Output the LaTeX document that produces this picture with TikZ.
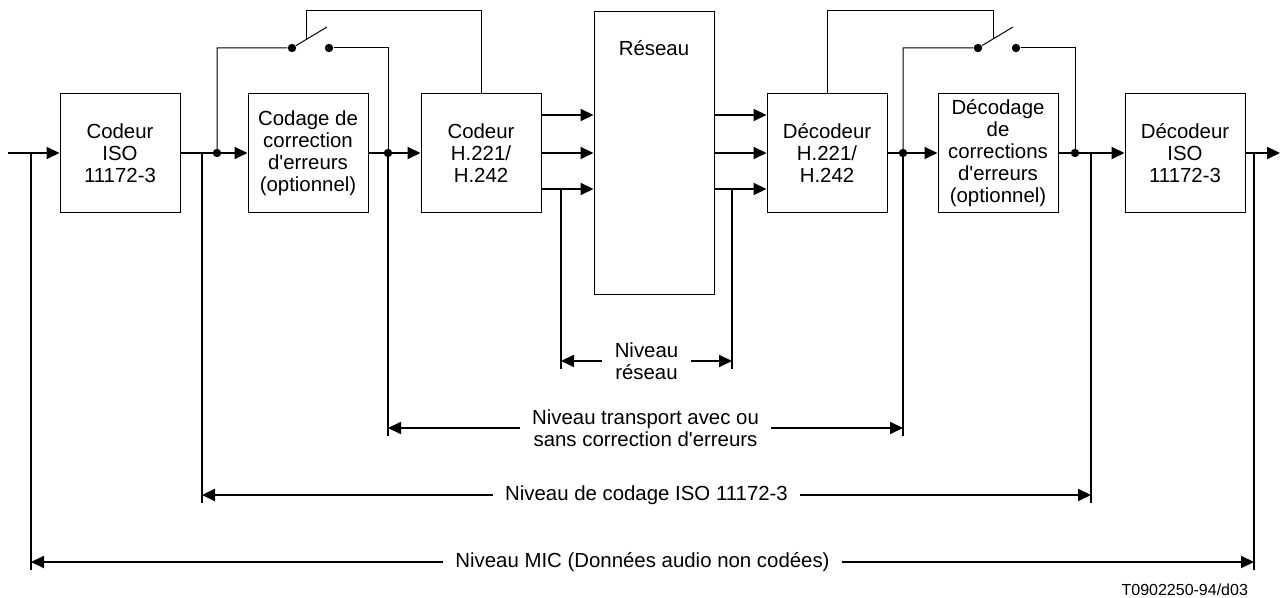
\documentclass[tikz,border=0pt]{standalone}
\usepackage{fontspec}
\setmainfont{Liberation Sans}
\usepackage{tikz}
\usetikzlibrary{arrows.meta,positioning,calc}

\begin{document}
\begin{tikzpicture}[
  x=0.5pt, y=-0.5pt,
  node distance=26pt,
  font=\fontsize{10.2}{11}\selectfont,
  box/.style={draw, line width=0.5pt, minimum width=60pt, minimum height=59.5pt, inner sep=1pt, align=center},
  sig/.style={line width=1pt},
  arrow/.style={sig, -{Triangle[length=6.5pt,width=6pt]}},
  wire/.style={line width=0.5pt},
  dot/.style={circle, fill, inner sep=0pt, minimum size=4.2pt},
  level/.style={align=center, inner xsep=6pt, inner ysep=0pt}
]
  \useasboundingbox (0,0) rectangle (1282,598);

  \node[box] (isoenc) at (120,153) {Codeur\\ISO\\11172-3};
  \node[box, right=33.5pt of isoenc] (fecenc) {Codage de\\correction\\d\textquotesingle erreurs\\(optionnel)};
  \node[box, right=of fecenc] (muxenc) {Codeur\\H.221/\\H.242};
  \node[box, right=of muxenc, minimum height=141.5pt] (net) {};
  \node (nettxt) at ($(net.north)+(0,37)$) {Réseau};
  \node[box, right=of net] (demux) {Décodeur\\H.221/\\H.242};
  \node[box, right=25pt of demux] (fecdec) {Décodage\\de\\corrections\\d\textquotesingle erreurs\\(optionnel)};
  \node[box, right=33pt of fecdec] (isodec) {Décodeur\\ISO\\11172-3};

  \coordinate (in) at (8,153);
  \coordinate (out) at (1280,153);
  \coordinate (pcmL) at (31,153);
  \coordinate (pcmR) at (1254,153);
  \coordinate (isoL) at (202,153);
  \coordinate (isoR) at (1091,153);
  \coordinate (byL) at (217,153);
  \coordinate (trL) at (388,153);
  \coordinate (trR) at (903,153);
  \coordinate (byR) at (1075,153);
  \coordinate (netL) at (561,189);
  \coordinate (netR) at (732,189);

  \node[dot] (swLa) at (292,48) {};
  \node[dot] (swLb) at (329,48) {};
  \coordinate (bladeL) at (327,27);
  \coordinate (actL) at (306,40);
  \coordinate (topL) at (306,11);
  \node[dot] (swRa) at (978,48) {};
  \node[dot] (swRb) at (1016,48) {};
  \coordinate (bladeR) at (1013,27);
  \coordinate (actR) at (993,39);
  \coordinate (topR) at (993,11);
  \foreach \p in {byL,trL,trR,byR}
    \node[dot] (\p dot) at (\p) {};

  \node[level] (lvnet) at (646.5,361) {Niveau\\réseau};
  \node[level] (lvtr) at (645.5,428) {Niveau transport avec ou\\sans correction d\textquotesingle erreurs};
  \node[level] (lviso) at (646.5,495) {Niveau de codage ISO 11172-3};
  \node[level] (lvpcm) at (642.5,562) {Niveau MIC (Données audio non codées)};
  \node[anchor=base east, font=\fontsize{8}{9.6}\selectfont] (figref) at (1255,596) {T0902250-94/d03};

  \draw[arrow] (in) -- (isoenc.west);
  \draw[arrow] (isoenc.east) -- (fecenc.west);
  \draw[arrow] (fecenc.east) -- (muxenc.west);
  \foreach \dy in {-38,0,36} {
    \draw[arrow] ($(muxenc.east)+(0,\dy)$) -- ($(net.west)+(0,\dy)$);
    \draw[arrow] ($(net.east)+(0,\dy)$) -- ($(demux.west)+(0,\dy)$);
  }
  \draw[arrow] (demux.east) -- (fecdec.west);
  \draw[arrow] (fecdec.east) -- (isodec.west);
  \draw[arrow] (isodec.east) -- (out);

  \draw[wire] (byL) |- (swLa) -- (bladeL);
  \draw[wire] (swLb) -| (trL);
  \draw[wire] (actL) -- (topL) -| (muxenc.north);
  \draw[wire] (trR) |- (swRa) -- (bladeR);
  \draw[wire] (swRb) -| (byR);
  \draw[wire] (demux.north) |- (topR) -- (actR);

  \foreach \a/\b/\l in {netL/netR/lvnet, trL/trR/lvtr, isoL/isoR/lviso, pcmL/pcmR/lvpcm} {
    \draw[sig] (\a) -- ($(\a |- \l.west)+(0,8)$);
    \draw[sig] (\b) -- ($(\b |- \l.east)+(0,8)$);
    \draw[arrow] (\l.west) -- (\a |- \l.west);
    \draw[arrow] (\l.east) -- (\b |- \l.east);
  }
\end{tikzpicture}
\end{document}
